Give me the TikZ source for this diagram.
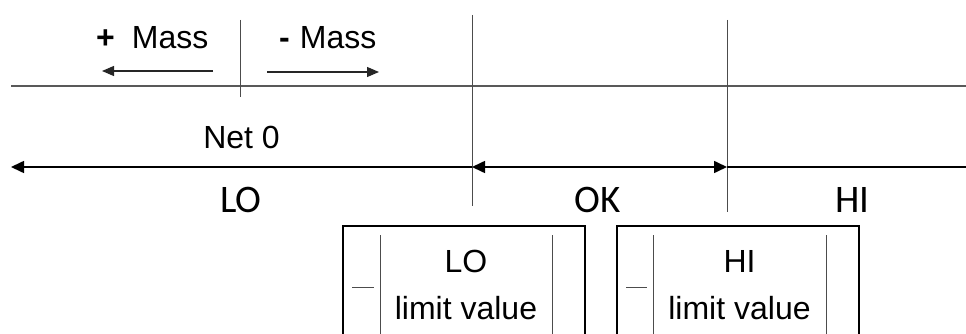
\documentclass[tikz,border=0pt]{standalone}
\usepackage{fontspec}
\setmainfont{Liberation Sans}
\newfontfamily\zonefont{Carlito}
\usetikzlibrary{arrows.meta}
\tikzset{
  lbl/.style   ={font=\fontsize{32}{38}\selectfont, inner sep=0pt, anchor=base},
  zone/.style  ={font=\zonefont\fontsize{39}{46}\selectfont, inner sep=0pt, anchor=base},
  grid/.style  ={draw=black!70, line width=1pt},
  axis/.style  ={draw=black, line width=1.6pt},
  sar/.style   ={-{Triangle[length=12pt,width=10pt]}, draw=black!85, line width=1.2pt},
  limbox/.style={draw=black, line width=1.5pt},
}
\begin{document}
\begin{tikzpicture}[x=1pt,y=-1pt]
\useasboundingbox (0,0) rectangle (966,334);
% scale lines
\coordinate (topL) at (11,86);   \coordinate (topR) at (966,86);
\coordinate (divT) at (240,20);  \coordinate (divB) at (240,97);
\coordinate (loT) at (472,15);   \coordinate (loB) at (472,206);
\coordinate (hiT) at (727,20);   \coordinate (hiB) at (727,212);
\coordinate (axL) at (11,167);   \coordinate (axLO) at (472,167);
\coordinate (axHI) at (727,167); \coordinate (axR) at (966,167);
\draw[grid,draw=black!65,line width=1.3pt] (topL) -- (topR);
\draw[grid] (divT) -- (divB);
\draw[grid] (loT) -- (loB);
\draw[grid] (hiT) -- (hiB);
\draw[axis,{Triangle[length=13pt,width=12pt]}-] (axL) -- (axLO);
\draw[axis,{Triangle[length=13pt,width=12pt]}-{Triangle[length=13pt,width=12pt]}] (axLO) -- (axHI);
\draw[axis] (axHI) -- (axR);
% mass direction
\node[lbl,anchor=base west] (plusm) at (96,49) {\textbf{+}\hspace{17pt}Mass};
\node[lbl,anchor=base west] (minusm) at (279,49) {\textbf{-}\hspace{10pt}Mass};
\coordinate (pmA) at (213,71);  \coordinate (pmB) at (102,71);
\coordinate (mmA) at (267,72);  \coordinate (mmB) at (379,72);
\draw[sar] (pmA) -- (pmB);
\draw[sar] (mmA) -- (mmB);
\node[lbl] (net) at (241.5,148) {Net 0};
% zones
\node[zone] (lo) at (241,212) {LO};
\node[zone] (ok) at (597.5,212) {OK};
\node[zone] (hi) at (852.5,212) {HI};
% limit boxes
\foreach \name/\xa/\xb/\xc/\xd/\txt in {lobox/343/380/552/585/LO, hibox/617/653/826/859/HI}{
  \draw[limbox] (\xa,336) -- (\xa,226) -- (\xd,226) -- (\xd,336);
  \draw[grid] (\xb,235) -- (\xb,336);
  \draw[grid] (\xc,235) -- (\xc,336);
  \draw[grid] (\xa+9,287) -- (\xb-6,287);
  \node[lbl] (\name t) at ({(\xb+\xc)/2},272) {\txt};
  \node[lbl] (\name v) at ({(\xb+\xc)/2},319) {limit value};
}
\end{tikzpicture}
\end{document}
